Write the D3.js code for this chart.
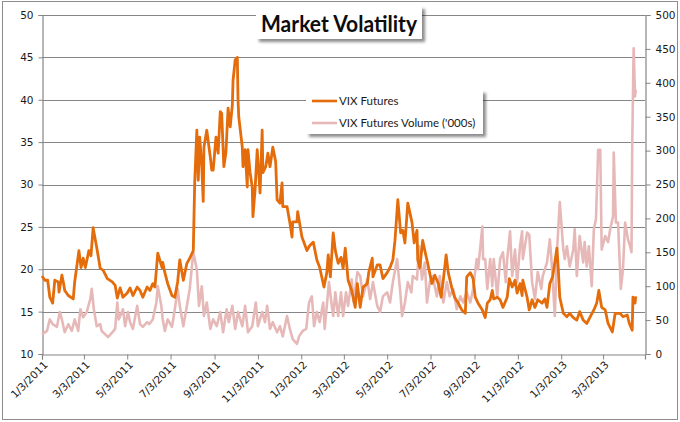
<!DOCTYPE html>
<html><head><meta charset="utf-8">
<script src="https://cdn.jsdelivr.net/npm/d3@7/dist/d3.min.js"></script>
<style>body{margin:0;background:#fff}svg{display:block}</style>
</head><body><svg id="c" width="680" height="422"></svg>
<script>
const title = "Market Volatility";
const seriesNames = ["VIX Futures", "VIX Futures Volume ('000s)"];
const startDate = "1/3/2011";
const endDate = "5/1/2013";
const xTickLabels = ["1/3/2011","3/3/2011","5/3/2011","7/3/2011","9/3/2011","11/3/2011","1/3/2012","3/3/2012","5/3/2012","7/3/2012","9/3/2012","11/3/2012","1/3/2013","3/3/2013"];
const leftTicks = [10,15,20,25,30,35,40,45,50];
const rightTicks = [0,50,100,150,200,250,300,350,400,450,500];
// [days since 1/3/2011, value]
const vixFutures = [[0,19.2],[4,18.7],[8,18.7],[11,16.7],[15,16.0],[18,18.7],[23,18.5],[24,17.3],[28,19.3],[30,18.5],[32,17.5],[37,16.9],[44,16.5],[46,18.5],[52,22.2],[55,20.2],[58,21.3],[61,20.2],[66,22.2],[69,21.6],[72,24.9],[77,22.6],[82,20.1],[86,19.9],[92,18.9],[99,18.5],[103,18.1],[106,16.6],[110,17.8],[114,16.7],[120,17.2],[124,17.8],[128,16.9],[134,17.9],[138,17.5],[142,16.7],[148,17.9],[152,17.5],[156,18.3],[159,17.9],[163,21.9],[169,20.2],[170,20.8],[173,19.6],[177,18.3],[183,16.9],[187,16.7],[191,18.5],[194,21.1],[199,18.7],[204,20.7],[208,21.3],[213,22.2],[215,30.2],[218,36.4],[220,30.5],[222,35.6],[225,32.1],[227,28.0],[228,34.4],[232,36.4],[237,33.2],[239,31.7],[241,31.7],[245,35.6],[248,33.7],[251,38.6],[253,38.4],[256,32.1],[259,33.8],[262,39.0],[265,36.8],[268,39.4],[269,42.3],[272,44.7],[275,45.0],[276,40.0],[277,38.0],[282,34.4],[283,32.1],[286,34.1],[289,29.7],[290,34.1],[293,31.4],[296,29.7],[297,26.2],[300,29.4],[303,34.1],[307,29.0],[310,36.4],[311,31.4],[315,32.1],[318,33.7],[321,32.1],[325,34.4],[329,32.7],[331,28.2],[335,27.8],[338,30.2],[339,27.4],[345,27.4],[349,25.5],[352,23.8],[353,25.6],[359,25.6],[360,26.8],[366,23.8],[373,22.2],[377,22.8],[382,23.2],[387,21.1],[391,20.2],[397,17.9],[401,19.6],[403,21.7],[406,19.1],[410,24.3],[413,22.2],[417,20.7],[421,21.4],[424,20.1],[427,22.5],[431,18.7],[436,17.5],[441,15.5],[444,18.3],[448,15.5],[452,17.9],[458,18.3],[460,19.6],[465,21.3],[466,19.1],[472,20.5],[476,20.5],[480,18.9],[486,19.6],[490,20.2],[494,21.1],[497,23.4],[501,28.2],[505,24.3],[508,24.6],[511,23.1],[515,27.8],[521,25.5],[524,23.1],[528,24.6],[529,21.1],[532,20.2],[536,23.4],[539,22.2],[543,20.7],[549,18.3],[553,19.3],[558,18.3],[562,16.7],[565,18.7],[569,21.7],[572,19.6],[577,17.8],[581,16.7],[586,16.0],[591,15.2],[596,14.8],[598,19.1],[603,19.6],[607,18.9],[610,16.7],[614,16.0],[620,15.2],[624,14.3],[627,16.0],[631,16.4],[634,17.5],[636,16.5],[641,16.7],[645,16.4],[649,15.5],[655,16.7],[658,18.9],[662,17.9],[666,18.7],[669,17.2],[673,18.3],[676,16.9],[677,18.7],[683,16.7],[686,15.2],[690,16.4],[694,15.5],[698,16.4],[704,16.0],[708,16.5],[711,15.5],[715,18.3],[719,19.1],[725,22.5],[727,19.9],[729,16.7],[734,14.8],[739,14.4],[743,14.8],[748,14.3],[753,14.0],[757,15.0],[762,14.0],[767,13.6],[772,14.4],[777,15.2],[781,16.0],[784,17.5],[788,15.5],[793,15.2],[797,13.6],[803,12.6],[807,14.8],[814,14.8],[818,14.4],[824,14.6],[827,13.6],[831,12.8],[832,16.7],[835,16.0],[836,16.8]];
const vixVolume = [[0,29],[7,34],[11,51],[15,44],[21,40],[25,62],[28,51],[32,32],[37,44],[42,34],[46,51],[51,34],[54,66],[58,54],[63,62],[68,81],[70,96],[73,66],[77,41],[82,44],[84,34],[89,29],[93,25],[99,32],[103,37],[106,76],[108,51],[114,66],[117,41],[121,62],[124,47],[128,37],[134,71],[138,44],[142,40],[148,47],[151,44],[156,51],[161,76],[163,100],[168,71],[170,51],[173,34],[177,51],[183,40],[187,66],[191,96],[194,71],[199,41],[204,71],[208,96],[213,150],[218,125],[221,71],[225,100],[228,56],[232,76],[237,37],[241,51],[246,41],[251,62],[255,32],[260,66],[263,47],[268,71],[272,37],[276,62],[282,41],[286,71],[290,32],[296,41],[301,76],[304,41],[310,62],[314,47],[317,71],[321,37],[325,47],[331,32],[335,41],[339,26],[345,56],[349,37],[353,22],[359,15],[362,26],[367,34],[372,37],[376,76],[380,85],[383,41],[387,62],[391,47],[396,76],[398,37],[401,71],[404,106],[408,71],[410,56],[413,91],[417,56],[421,91],[424,56],[428,91],[431,71],[436,110],[439,76],[444,121],[448,115],[452,85],[458,110],[462,81],[466,106],[472,71],[476,62],[480,85],[486,91],[490,76],[494,106],[500,140],[504,96],[507,56],[511,76],[515,106],[520,91],[522,115],[528,110],[531,159],[535,110],[539,135],[542,76],[546,106],[550,115],[556,85],[560,115],[565,76],[570,106],[574,85],[579,96],[584,66],[589,85],[593,76],[598,91],[603,76],[607,96],[612,140],[614,125],[620,188],[621,140],[624,140],[627,96],[631,140],[634,100],[636,140],[641,85],[645,140],[649,150],[653,106],[655,140],[659,181],[662,115],[666,154],[669,106],[673,159],[676,181],[677,140],[683,179],[686,176],[690,106],[694,81],[698,121],[703,96],[705,115],[711,135],[715,169],[718,129],[722,56],[725,150],[729,224],[734,154],[736,140],[739,159],[743,129],[748,154],[750,184],[753,115],[757,174],[762,135],[764,165],[767,129],[770,159],[774,100],[777,184],[780,199],[783,301],[786,301],[788,154],[793,174],[797,165],[800,184],[804,203],[805,297],[808,194],[811,194],[815,96],[818,125],[821,194],[825,169],[828,159],[830,150],[831,305],[833,451],[835,380],[836,390]];

const orange = "#E46C0A", pink = "#E6B9B8", grid = "#868686", textCol = "#1a1a1a";
const parse = d3.timeParse("%m/%d/%Y");
const t0 = parse(startDate);
const toDate = d => d3.timeDay.offset(t0, d);

const svg = d3.select("#c");
const defs = svg.append("defs");
const f = defs.append("filter").attr("id","sh").attr("x","-10%").attr("y","-10%").attr("width","130%").attr("height","150%");
f.append("feDropShadow").attr("dx",3).attr("dy",3).attr("stdDeviation",1.8).attr("flood-color","#000").attr("flood-opacity",0.45);

const L = 42, R = 645, T = 15, B = 354;
const x = d3.scaleTime().domain([t0, parse(endDate)]).range([L, R]);
const yL = d3.scaleLinear().domain([10, 50]).range([B, T]);
const yR = d3.scaleLinear().domain([0, 500]).range([B, T]);

// outer border
svg.append("rect").attr("x",2.5).attr("y",1.5).attr("width",675).attr("height",418)
  .attr("fill","#fff").attr("stroke","#8c8c8c").attr("stroke-width",1);

// gridlines
svg.append("g").selectAll("line").data(leftTicks.filter(v=>v>10)).join("line")
  .attr("x1",L).attr("x2",R).attr("y1",d=>Math.round(yL(d))+0.5).attr("y2",d=>Math.round(yL(d))+0.5)
  .attr("stroke",grid).attr("stroke-width",1.1);

const fontAxis = "'DejaVu Sans', Verdana, sans-serif";
// left axis
const gL = svg.append("g").attr("transform",`translate(${L+0.5},0)`)
  .call(d3.axisLeft(yL).tickValues(leftTicks).tickSize(4).tickPadding(5).tickFormat(d3.format("d")));
// right axis
const gR = svg.append("g").attr("transform",`translate(${R+0.5},0)`)
  .call(d3.axisRight(yR).tickValues(rightTicks).tickSize(5).tickPadding(5).tickFormat(d3.format("d")));
// bottom axis
const gB = svg.append("g").attr("transform",`translate(0,${B+0.5})`)
  .call(d3.axisBottom(x).tickValues(xTickLabels.map(parse)).tickSize(5).tickFormat((d,i)=>xTickLabels[i]));
[gL,gR,gB].forEach(g=>{
  g.select(".domain").attr("stroke",grid).attr("stroke-width",1.2);
  g.selectAll(".tick line").attr("stroke",grid);
  g.selectAll("text").attr("fill",textCol).style("font-family",fontAxis).style("font-size","10.5px");
});
gB.selectAll(".tick text").attr("text-anchor","end").attr("dy",null).attr("y",null)
  .attr("transform","translate(6,11) rotate(-45)");

// series (volume on secondary axis behind, VIX futures on top)
const lineL = d3.line().x(d=>x(toDate(d[0]))).y(d=>yL(d[1])).curve(d3.curveLinear);
const lineR = d3.line().x(d=>x(toDate(d[0]))).y(d=>yR(d[1])).curve(d3.curveLinear);
svg.append("path").datum(vixVolume).attr("d",lineR).attr("fill","none").attr("stroke",pink).attr("stroke-width",2.6).attr("stroke-linejoin","round");
svg.append("path").datum(vixFutures).attr("d",lineL).attr("fill","none").attr("stroke",orange).attr("stroke-width",2.8).attr("stroke-linejoin","round");

// title box
svg.append("rect").attr("x",256).attr("y",6).attr("width",166).attr("height",33).attr("fill","#fff").attr("filter","url(#sh)");
svg.append("text").attr("x",339).attr("y",32).attr("text-anchor","middle")
  .attr("textLength",156).attr("lengthAdjust","spacingAndGlyphs")
  .style("font-family","Lato, 'Open Sans', sans-serif").style("font-weight","bold").style("font-size","23px")
  .attr("fill","#0d0d0d").text(title);

// legend
const lg = svg.append("g");
lg.append("rect").attr("x",306).attr("y",90).attr("width",177).attr("height",44).attr("fill","#fff").attr("filter","url(#sh)");
const cols = [orange, pink];
seriesNames.forEach((n,i)=>{
  const yy = 101 + i*22;
  lg.append("line").attr("x1",312).attr("x2",337).attr("y1",yy).attr("y2",yy).attr("stroke",cols[i]).attr("stroke-width",2.6);
  lg.append("text").attr("x",339).attr("y",yy+4).text(n).attr("fill",textCol)
    .style("font-family","Lato, 'Open Sans', sans-serif").style("font-size","11.5px");
});
</script></body></html>
